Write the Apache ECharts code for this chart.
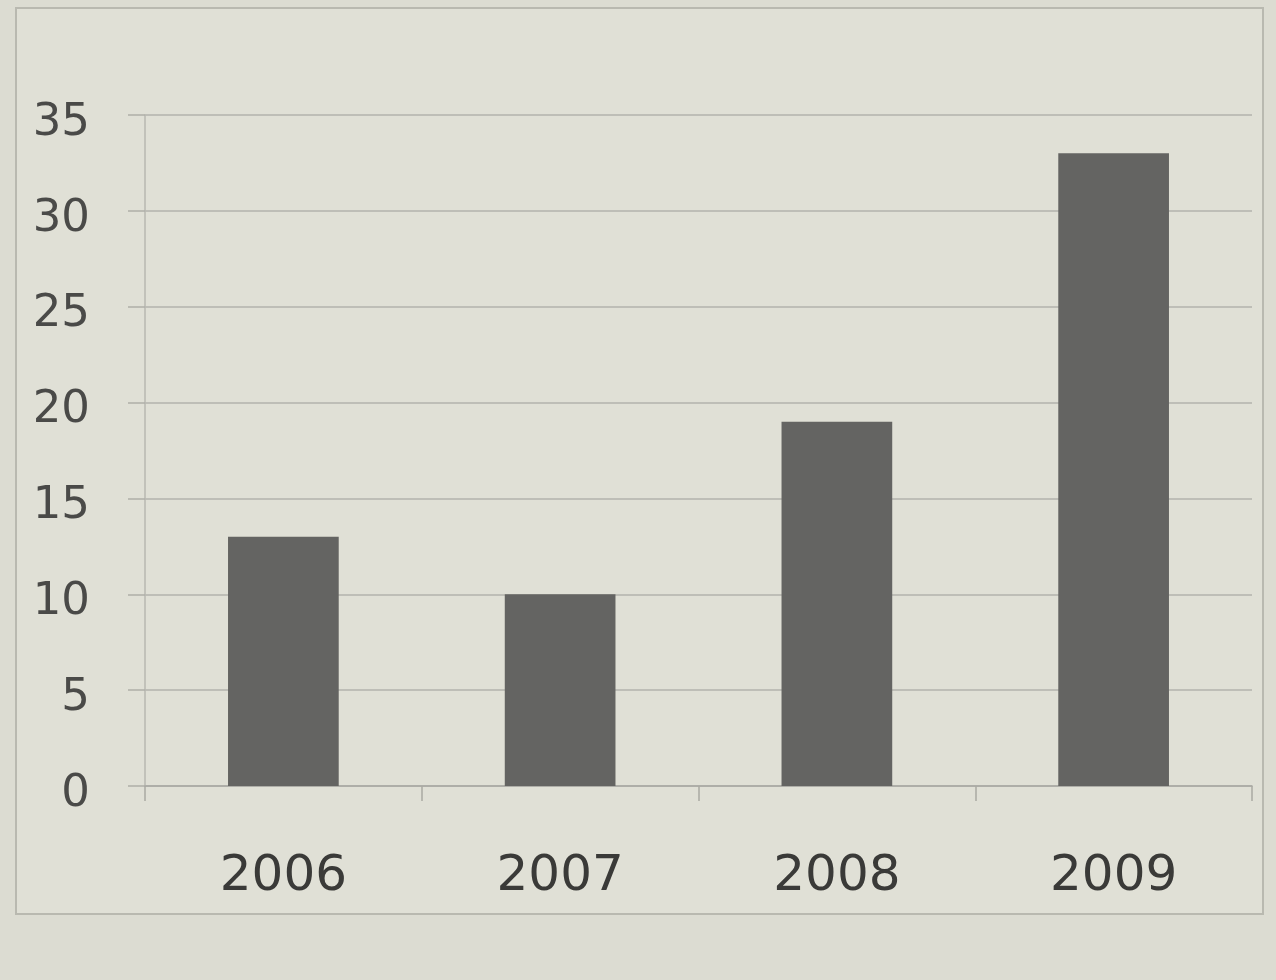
<!DOCTYPE html>
<html>
<head>
<meta charset="utf-8">
<script src="https://cdn.jsdelivr.net/npm/echarts@6/dist/echarts.min.js"></script>
<style>
  html, body { margin: 0; padding: 0; background: #dcdcd2; }
  #frame {
    position: absolute; left: 15px; top: 7px; width: 1245px; height: 904px;
    border: 2px solid #b9b9b0; background: #e0e0d6;
  }
  #chart { position: absolute; left: 0; top: 0; width: 1276px; height: 980px; }
</style>
</head>
<body>
<div id="frame"></div>
<div id="chart"></div>
<script>
// 年份
const years = ["2006", "2007", "2008", "2009"];
// 柱形数值
const values = [13, 10, 19, 33];
// 纵轴刻度
const yMin = 0;
const yMax = 35;
const yStep = 5;

var chartDom = document.getElementById("chart");
var myChart = echarts.init(chartDom, null, { renderer: "canvas" });

var option = {
  backgroundColor: "transparent",
  animation: false,
  grid: {
    left: 145,
    right: 24,
    top: 115,
    bottom: 194,
  },
  xAxis: {
    type: "category",
    data: years,
    axisLine: { show: true, lineStyle: { color: "#a9a9a2", width: 1.5 } },
    axisTick: { show: true, length: 15, lineStyle: { color: "#a9a9a2", width: 1.5 } },
    axisLabel: {
      margin: 66,
      fontSize: 50,
      fontFamily: "DejaVu Sans",
      color: "#3a3a38",
    },
  },
  yAxis: {
    type: "value",
    min: yMin,
    max: yMax,
    interval: yStep,
    axisLine: { show: true, lineStyle: { color: "#b9b9b1", width: 1.5 } },
    axisTick: { show: true, length: 17, lineStyle: { color: "#afafa8", width: 1.5 } },
    splitLine: { show: true, lineStyle: { color: "#b3b3ac", width: 1.5 } },
    axisLabel: {
      margin: 55,
      formatter: "{v|{value}}",
      rich: {
        v: {
          fontSize: 45,
          fontFamily: "DejaVu Sans",
          color: "#4a4a48",
          padding: [16, 0, 0, 0],
        },
      },
    },
  },
  series: [
    {
      type: "bar",
      data: values,
      barWidth: "40%",
      itemStyle: { color: "#646462" },
    },
  ],
};
option && myChart.setOption(option);
</script>
</body>
</html>
